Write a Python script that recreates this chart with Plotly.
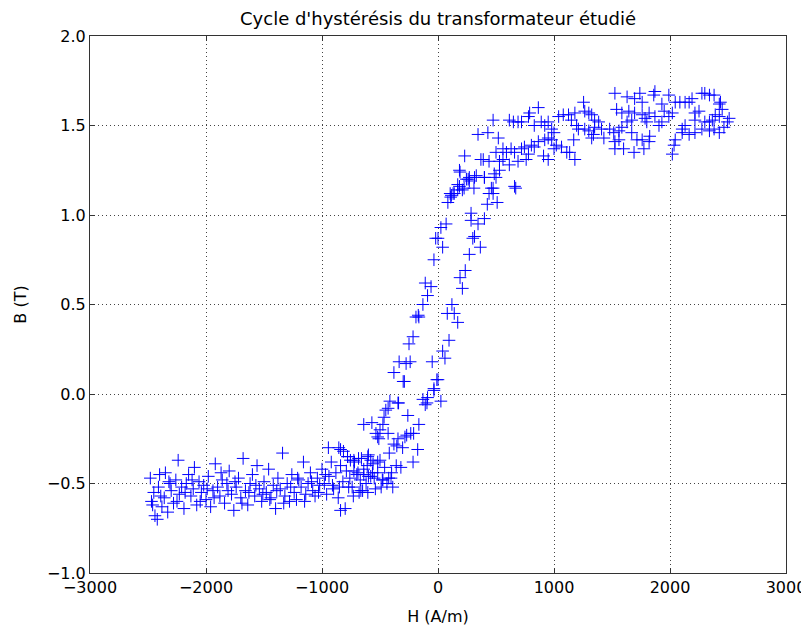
import plotly.graph_objects as go

# negative saturation (H < -300)
h_neg = [-2480, -2470, -2450, -2440, -2420, -2410, -2400, -2380, -2360, -2350, -2330, -2310, -2300,
         -2280, -2260, -2240, -2230, -2210, -2190, -2170, -2150, -2130, -2110, -2100, -2080, -2060,
         -2040, -2020, -2000, -1980, -1960, -1940, -1920, -1900, -1880, -1860, -1840, -1820, -1800,
         -1780, -1760, -1740, -1720, -1700, -1680, -1660, -1640, -1620, -1600, -1580, -1560, -1540,
         -1520, -1500, -1480, -1460, -1440, -1420, -1400, -1380, -1360, -1340, -1320, -1300, -1280,
         -1260, -1240, -1220, -1200, -1180, -1160, -1140, -1120, -1100, -1080, -1060, -1040, -1020,
         -1000, -980, -960, -940, -920, -900, -880, -860, -840, -820, -800, -780, -760, -740, -720,
         -700, -680, -660, -640, -620, -600, -580, -560, -540, -520, -500, -480, -460, -440, -420,
         -400, -380, -360,
         -2460, -2390, -2320, -2250, -2180, -2120, -2050, -1990, -1930, -1870, -1810, -1750, -1690,
         -1630, -1570, -1510, -1450, -1390, -1330, -1270, -1210, -1150, -1090, -1030, -970, -910,
         -850, -790, -730, -670, -610, -550, -490]
b_neg = [-0.47, -0.60, -0.55, -0.68, -0.70, -0.52, -0.45, -0.63, -0.58, -0.44, -0.66, -0.50, -0.54,
         -0.61, -0.48, -0.37, -0.56, -0.52, -0.64, -0.50, -0.45, -0.57, -0.53, -0.41, -0.62, -0.49,
         -0.55, -0.51, -0.59, -0.46, -0.63, -0.54, -0.39, -0.52, -0.57, -0.48, -0.61, -0.50, -0.43,
         -0.56, -0.65, -0.52, -0.47, -0.58, -0.36, -0.54, -0.62, -0.50, -0.45, -0.57, -0.40, -0.53,
         -0.60, -0.49, -0.55, -0.42, -0.58, -0.51, -0.64, -0.47, -0.53, -0.33, -0.57, -0.50, -0.60,
         -0.45, -0.55, -0.59, -0.48, -0.52, -0.38, -0.56, -0.50, -0.44, -0.54, -0.57, -0.47, -0.51,
         -0.42, -0.50, -0.56, -0.46, -0.38, -0.53, -0.44, -0.58, -0.40, -0.49, -0.64, -0.35, -0.47,
         -0.52, -0.38, -0.45, -0.55, -0.36, -0.42, -0.50, -0.34, -0.46, -0.39, -0.53, -0.44, -0.37,
         -0.48, -0.41, -0.50, -0.33, -0.44, -0.28, -0.40,
         -0.62, -0.57, -0.49, -0.60, -0.55, -0.48, -0.60, -0.53, -0.58, -0.44, -0.54, -0.49, -0.61,
         -0.55, -0.51, -0.56, -0.59, -0.54, -0.61, -0.52, -0.47, -0.60, -0.49, -0.55, -0.45, -0.51,
         -0.52, -0.43, -0.57, -0.48, -0.40, -0.47, -0.52]

# steep part of the loop (both branches)
h_mid = [70, 25, 0, -20, 40, -35, -110, -60, -90, -130, -170, -190, -165, -215, -250, -335, -275,
         -240, -380, -300, -50, -10, -35, -90,
         120, 80, 140, 170, 95, 40, 60, 210, 190, 235, 270, 365, 300, 315, 345, 400, 285, 285, 425,
         510, 440, 475, 670, 85, 110, 130, 105, 170, 210, 190, 260, 270, 330, 310, 400,
         -290, 0, -35, -415, -345, -340, -430, -450, -465, -130, -95, -110, 25, -260, -165, -640,
         -570, -475, -500, -430, -535, -520, -510, -345, -235, -270, -210, -285, -175, -355, -305,
         -215, -320, -425, -390, -650, -770, -840, -945, -855, -840, -815, -780, -755, -725, -685,
         -605, -580, -520, -725, -690, -640, -600, -565, -475, -405, -605, -665]
b_mid = [0.95, 0.93, 0.87, 0.87, 0.82, 0.75, 0.62, 0.60, 0.55, 0.50, 0.44, 0.43, 0.43, 0.32, 0.28,
         0.18, 0.17, 0.18, 0.12, 0.07, 0.18, 0.08, 0.03, -0.02,
         0.50, 0.45, 0.45, 0.40, 0.30, 0.24, 0.20, 0.59, 0.65, 0.69, 0.78, 0.82, 0.87, 0.88, 0.95,
         0.98, 0.97, 1.01, 1.06, 1.07, 1.12, 1.15, 1.15, 1.07, 1.10, 1.12, 1.12, 1.17, 1.14, 1.24,
         1.20, 1.19, 1.22, 1.15, 1.21,
         0.07, 0.08, 0.02, -0.04, -0.05, -0.05, -0.08, -0.09, -0.13, -0.03, -0.05, -0.06, -0.04,
         -0.12, -0.17, -0.17, -0.16, -0.17, -0.20, -0.22, -0.22, -0.24, -0.25, -0.25, -0.22, -0.23,
         -0.22, -0.24, -0.31, -0.29, -0.30, -0.38, -0.41, -0.47, -0.52, -0.54, -0.52, -0.65, -0.30,
         -0.30, -0.31, -0.32, -0.35, -0.37, -0.37, -0.36, -0.35, -0.37, -0.38, -0.43, -0.44, -0.45,
         -0.46, -0.44, -0.48, -0.47, -0.55, -0.54]

# positive saturation
h_pos = [115, 140, 185, 170, 185, 245, 270, 315, 225, 230, 370, 390, 440, 400, 485, 530, 500, 460,
         475, 660, 500, 560, 590, 630, 660, 720, 745, 805, 830, 530, 560, 615, 690, 760, 780, 865,
         920, 950, 980, 910, 950, 1000, 1020, 345, 430, 520, 475, 615, 650, 690, 865, 790, 830, 890,
         980, 1000, 1040, 1080, 1125, 1150, 1180, 1195, 1210, 1170, 1065, 1110, 1135, 1180, 1255,
         1265, 1300, 1325, 1350, 1385, 1265, 1300, 1340, 1350, 1410, 1325, 1430, 1525, 1560, 1600,
         1690, 1775, 1525, 1480, 1515, 1560, 1585, 1630, 1670, 1525, 1630, 1695, 1740, 1760, 1860,
         1870, 1990, 1540, 1585, 1645, 1695, 1760, 1820, 1930, 1950, 1870, 1785, 1800, 1670, 1715,
         1760, 1820, 1825, 1905, 1930, 1990, 2020, 2020, 2045, 2105, 2130, 2045, 2085, 2130, 2165,
         2190, 2215, 2250, 2105, 2165, 2215, 2275, 2300, 2340, 2365, 2215, 2275, 2300, 2340, 2380,
         2425, 2435, 2450, 2390, 2425, 2340, 2380, 2425, 2465, 2495, 2510, 2035, 720, 780, 920, 950]
b_pos = [1.11, 1.12, 1.16, 1.14, 1.25, 1.20, 1.21, 1.21, 1.15, 1.33, 1.31, 1.31, 1.30, 1.21, 1.23,
         1.25, 1.21, 1.15, 1.12, 1.16, 1.35, 1.37, 1.35, 1.37, 1.35, 1.37, 1.38, 1.39, 1.38, 1.30,
         1.31, 1.28, 1.30, 1.31, 1.34, 1.41, 1.42, 1.43, 1.42, 1.33, 1.31, 1.37, 1.39, 1.45, 1.46,
         1.43, 1.53, 1.53, 1.52, 1.52, 1.60, 1.57, 1.50, 1.52, 1.48, 1.46, 1.55, 1.56, 1.56, 1.53,
         1.57, 1.50, 1.48, 1.42, 1.38, 1.35, 1.35, 1.31, 1.63, 1.58, 1.57, 1.56, 1.53, 1.52, 1.48,
         1.47, 1.45, 1.49, 1.48, 1.43, 1.43, 1.41, 1.42, 1.37, 1.35, 1.37, 1.37, 1.48, 1.46, 1.47,
         1.49, 1.52, 1.53, 1.68, 1.66, 1.65, 1.68, 1.63, 1.67, 1.69, 1.67, 1.59, 1.57, 1.58, 1.57,
         1.56, 1.57, 1.62, 1.58, 1.55, 1.54, 1.52, 1.46, 1.42, 1.42, 1.41, 1.44, 1.50, 1.52, 1.55,
         1.57, 1.34, 1.42, 1.48, 1.50, 1.63, 1.63, 1.63, 1.63, 1.65, 1.57, 1.58, 1.46, 1.45, 1.46,
         1.48, 1.52, 1.52, 1.53, 1.53, 1.68, 1.68, 1.67, 1.67, 1.62, 1.63, 1.59, 1.56, 1.55, 1.47,
         1.48, 1.46, 1.49, 1.52, 1.54, 1.39, 1.52, 1.55, 1.50, 1.52]

H = h_neg + h_mid + h_pos
B = b_neg + b_mid + b_pos

x_ticks = [-3000, -2000, -1000, 0, 1000, 2000, 3000]
y_ticks = [-1.0, -0.5, 0.0, 0.5, 1.0, 1.5, 2.0]

fig = go.Figure()
fig.add_trace(go.Scatter(x=H, y=B, mode='markers',
                         marker=dict(symbol='cross-thin', size=9, color='blue',
                                     line=dict(width=1, color='blue'))))

axis_style = dict(showline=True, linecolor='#333333', linewidth=1, mirror='ticks',
                  ticks='inside', ticklen=5, tickcolor='#333333',
                  showgrid=True, gridcolor='#444444', griddash='1px,3px', gridwidth=1,
                  zeroline=False, automargin=False, tickfont=dict(size=16, color='black'))

# the page body adds an 8px offset, so the figure is a bit smaller than the window
fig.update_layout(
    width=801, height=619,
    margin=dict(l=82, r=23, t=28, b=54),
    paper_bgcolor='white', plot_bgcolor='white',
    font=dict(family='DejaVu Sans', color='black'),
    showlegend=False,
    title=dict(text="Cycle d'hystérésis du transformateur étudié", x=0.5, xref='paper',
               xanchor='center', yref='container', y=1 - 11 / 619, yanchor='middle',
               font=dict(size=18)),
)
fig.update_xaxes(range=[-3000, 3000], tickvals=x_ticks,
                 ticktext=[str(v).replace('-', '\u2212') for v in x_ticks],
                 title=dict(text='H (A/m)', font=dict(size=16), standoff=14), **axis_style)
fig.update_yaxes(range=[-1, 2], tickvals=y_ticks,
                 ticktext=[f'{v:.1f}'.replace('-', '\u2212') for v in y_ticks],
                 title=dict(text='B (T)', font=dict(size=16), standoff=16), **axis_style)

fig.write_html("out.html")
